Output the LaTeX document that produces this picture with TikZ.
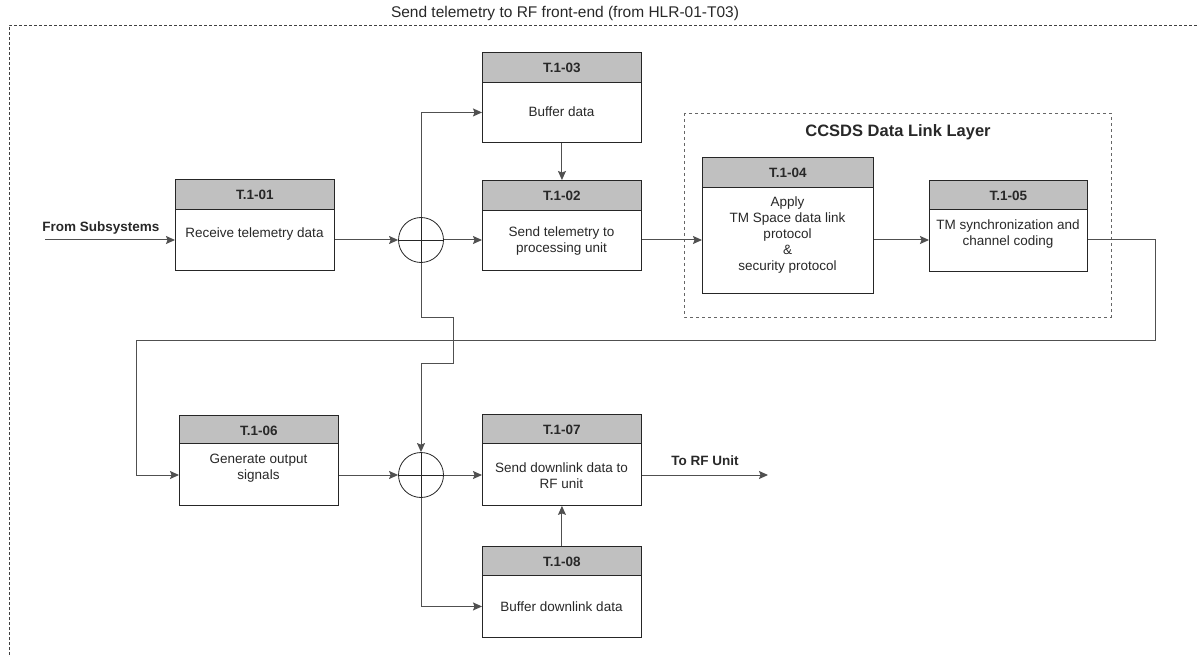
\documentclass[tikz,border=0pt]{standalone}
\usepackage{fontspec}
\setmainfont{Liberation Sans}
\usetikzlibrary{arrows.meta}
\definecolor{hdrgray}{RGB}{192,192,192}
\definecolor{txtc}{RGB}{40,40,40}
\definecolor{linec}{RGB}{80,80,80}
\begin{document}
\begin{tikzpicture}[x=1pt,y=-1pt,
  hdr/.style={draw=black!85, fill=hdrgray, line width=0.9pt, minimum width=159pt, minimum height=30pt, anchor=north west, inner sep=0pt, font=\fontsize{13.5}{16}\selectfont\bfseries, text=txtc},
  bodybox/.style={draw=black!85, fill=white, line width=0.9pt, minimum width=159pt, anchor=north west, inner sep=0pt},
  txt/.style={align=center, inner sep=0pt, font=\fontsize{13.5}{16}\selectfont, text=txtc},
  lbl/.style={inner sep=0pt, font=\fontsize{13.5}{16}\selectfont\bfseries, text=txtc},
  conn/.style={draw=linec, line width=1pt, -{Stealth[length=9pt,width=8pt,inset=1.5pt]}},
  sumc/.style={circle, draw=black!85, line width=0.8pt, minimum size=45pt, inner sep=0pt}
]
\useasboundingbox (0,0) rectangle (1197,655);
% outer frame
\draw[black!75, line width=0.7pt, dash pattern=on 3pt off 2pt] (9,655) -- (9,25) -- (1197,25);
\node[inner sep=0pt, font=\fontsize{15.5}{18}\selectfont, text=txtc] (title) at (565,13) {Send telemetry to RF front-end (from HLR-01-T03)};
% CCSDS group
\draw[black!60, line width=0.9pt, dash pattern=on 3pt off 3pt] (684,113) rectangle (1111,317);
\node[inner sep=0pt, font=\fontsize{16.5}{19}\selectfont\bfseries, text=txtc] (ccsds) at (898,132) {CCSDS Data Link Layer};
% boxes
\node[hdr] (h1) at (175,179) {T.1-01};
\node[bodybox, minimum height=61pt] (b1) at (175,209) {};
\node[txt] (t1) at (254.5,234) {Receive telemetry data};

\node[hdr] (h3) at (482,52) {T.1-03};
\node[bodybox, minimum height=60pt] (b3) at (482,82) {};
\node[txt] (t3) at (561.5,112) {Buffer data};

\node[hdr] (h2) at (482,180) {T.1-02};
\node[bodybox, minimum height=60pt] (b2) at (482,210) {};
\node[txt] (t2) at (561.5,241) {Send telemetry to\\processing unit};

\node[hdr, minimum width=171pt] (h4) at (702,157) {T.1-04};
\node[bodybox, minimum width=171pt, minimum height=106pt] (b4) at (702,187) {};
\node[txt] (t4) at (787.5,235) {Apply\\TM Space data link\\protocol\\\&\\security protocol};

\node[hdr, minimum width=158pt] (h5) at (929,180) {T.1-05};
\node[bodybox, minimum width=158pt, minimum height=62pt] (b5) at (929,209) {};
\node[txt] (t5) at (1008,234) {TM synchronization and\\channel coding};

\node[hdr] (h6) at (179,415) {T.1-06};
\node[bodybox, minimum height=62pt] (b6) at (179,443) {};
\node[txt] (t6) at (258.5,468.5) {Generate output\\signals};

\node[hdr] (h7) at (482,414) {T.1-07};
\node[bodybox, minimum height=62pt] (b7) at (482,443) {};
\node[txt] (t7) at (561.5,476) {Send downlink data to\\RF unit};

\node[hdr] (h8) at (482,546) {T.1-08};
\node[bodybox, minimum height=62pt] (b8) at (482,575) {};
\node[txt] (t8) at (561.5,607) {Buffer downlink data};

% summing junctions
\node[sumc] (c1) at (421,240) {};
\draw[black!85, line width=0.8pt] (c1.west) -- (c1.east) (c1.north) -- (c1.south);
\node[sumc] (c2) at (421,475) {};
\draw[black!85, line width=0.8pt] (c2.west) -- (c2.east) (c2.north) -- (c2.south);

% coordinates
\coordinate (inp) at (45,240);
\coordinate (outp) at (768,475);
\coordinate (r1) at (1155,240);
\coordinate (r2) at (1155,340);
\coordinate (r3) at (136,340);
\coordinate (r4) at (136,475);
\coordinate (j1) at (421,317);
\coordinate (j2) at (453,317);
\coordinate (j3) at (453,363);
\coordinate (j4) at (421,363);

% labels
\node[lbl] (lin) at (101,228) {From Subsystems};
\node[lbl] (lout) at (705,461) {To RF Unit};

% connectors
\draw[conn] (inp) -- (b1.west |- inp);
\draw[conn] (b1.east |- c1) -- (c1.west);
\draw[conn] (c1.east) -- (b2.west |- c1);
\draw[conn] (c1.north) |- (b3.west);
\draw[conn] (b3.south) -- (h2.north);
\draw[conn] (b2.east |- c1) -- (b4.west |- c1);
\draw[conn] (b4.east |- c1) -- (b5.west |- c1);
\draw[conn] (b5.east |- r1) -- (r1) -- (r2) -- (r3) -- (r4) -- (b6.west |- r4);
\draw[conn] (c1.south) -- (j1) -- (j2) -- (j3) -- (j4) -- (c2.north);
\draw[conn] (b6.east |- c2) -- (c2.west);
\draw[conn] (c2.east) -- (b7.west |- c2);
\draw[conn] (c2.south) |- (b8.west);
\draw[conn] (h8.north) -- (b7.south);
\draw[conn] (b7.east |- outp) -- (outp);
\end{tikzpicture}
\end{document}
